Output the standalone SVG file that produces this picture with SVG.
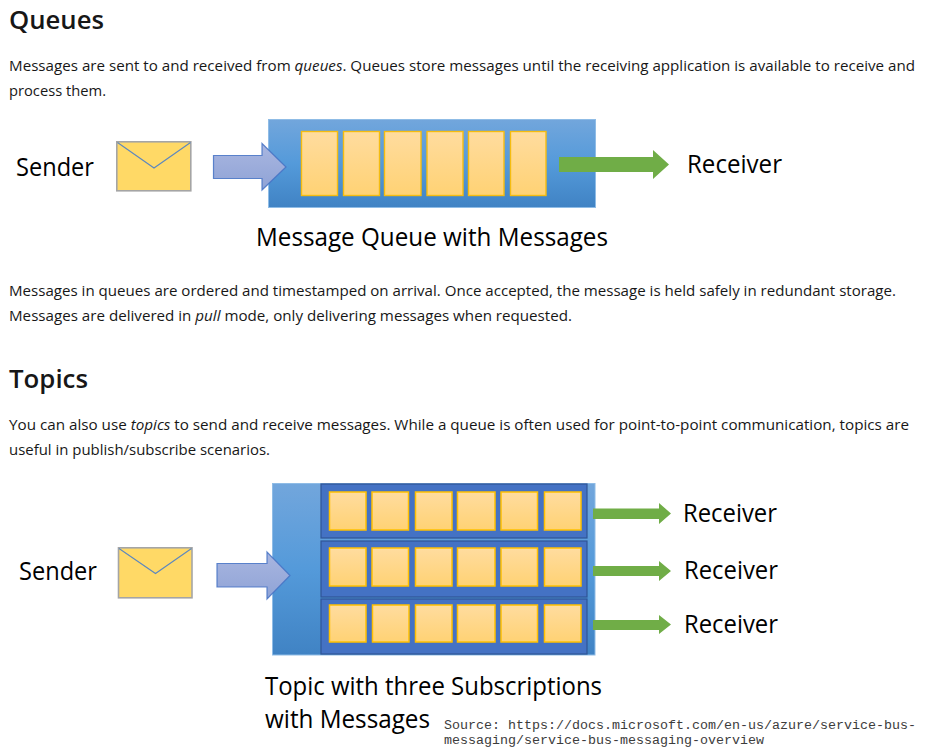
<svg xmlns="http://www.w3.org/2000/svg" width="927" height="747" viewBox="0 0 927 747">
<style>
text{font-family:"Open Sans","Noto Sans","Liberation Sans",sans-serif;fill:#171717}
.h{font-size:26px;font-weight:600}
.p{font-size:15px}
.l{font-size:25px;fill:#000}
.src{font-family:"Liberation Mono",monospace;font-size:12.5px;fill:#3c3c3c}
.panel{fill:url(#gp);stroke:#8fbce6;stroke-width:1}
.t{fill:url(#gt);stroke:#f5bc10;stroke-width:1.4}
.u{fill:url(#gt);stroke:#ffc000;stroke-width:1.5}
.sub{fill:#4472c4;stroke:#2f5597;stroke-width:1.2}
.env{fill:#ffd966;stroke:#a5a5a5;stroke-width:1.6}
.flap{fill:none;stroke:#5b87c0;stroke-width:1.1}
.in{fill:url(#ga);stroke:#4472c4;stroke-width:1.2;stroke-opacity:.85}
.out{fill:#70ad47}
</style>
<defs>
<linearGradient id="gp" x1="0" y1="0" x2="0" y2="1"><stop offset="0" stop-color="#72a6dc"/><stop offset=".5" stop-color="#549ada"/><stop offset="1" stop-color="#4083c4"/></linearGradient>
<linearGradient id="gt" x1="0" y1="0" x2="0" y2="1"><stop offset="0" stop-color="#ffdc9f"/><stop offset="1" stop-color="#ffd274"/></linearGradient>
<linearGradient id="ga" x1="0" y1="0" x2="0" y2="1"><stop offset="0" stop-color="#a9b6e0"/><stop offset="1" stop-color="#8fa3d6"/></linearGradient>
</defs>
<rect width="927" height="747" fill="#fff"/>

<g id="page-text">
<text class="h" x="9" y="29" textLength="95" lengthAdjust="spacingAndGlyphs">Queues</text>
<text class="p" x="9" y="71" textLength="906" lengthAdjust="spacingAndGlyphs">Messages are sent to and received from <tspan font-style="italic">queues</tspan>. Queues store messages until the receiving application is available to receive and</text>
<text class="p" x="9" y="96" textLength="97" lengthAdjust="spacingAndGlyphs">process them.</text>
<text class="p" x="9" y="296" textLength="887" lengthAdjust="spacingAndGlyphs">Messages in queues are ordered and timestamped on arrival. Once accepted, the message is held safely in redundant storage.</text>
<text class="p" x="9" y="321" textLength="563" lengthAdjust="spacingAndGlyphs">Messages are delivered in <tspan font-style="italic">pull</tspan> mode, only delivering messages when requested.</text>
<text class="h" x="9" y="388" textLength="79" lengthAdjust="spacingAndGlyphs">Topics</text>
<text class="p" x="9" y="430" textLength="900" lengthAdjust="spacingAndGlyphs">You can also use <tspan font-style="italic">topics</tspan> to send and receive messages. While a queue is often used for point-to-point communication, topics are</text>
<text class="p" x="9" y="455" textLength="261" lengthAdjust="spacingAndGlyphs">useful in publish/subscribe scenarios.</text>
<text class="src" x="444" y="729" textLength="472" lengthAdjust="spacingAndGlyphs">Source: https://docs.microsoft.com/en-us/azure/service-bus-</text>
<text class="src" x="444" y="743.500" textLength="320" lengthAdjust="spacingAndGlyphs">messaging/service-bus-messaging-overview</text>
</g>

<g id="queue-sender">
<text class="l" x="16" y="176" textLength="78" lengthAdjust="spacingAndGlyphs">Sender</text>
<rect class="env" x="116.8" y="141.8" width="74" height="49"/>
<path class="flap" d="M117.5 142.5L154 168L190.5 142.5"/>
</g>
<g id="queue">
<rect class="panel" x="268.5" y="119.5" width="327" height="88"/>
<rect class="t" x="301.5" y="131.5" width="36" height="64"/>
<rect class="t" x="343.5" y="131.5" width="36" height="64"/>
<rect class="t" x="384.5" y="131.5" width="36.500" height="64"/>
<rect class="t" x="427" y="131.5" width="36" height="64"/>
<rect class="t" x="468.500" y="131.5" width="35.500" height="64"/>
<rect class="t" x="510.500" y="131.5" width="35.500" height="64"/>
<text class="l" x="256" y="246" textLength="352" lengthAdjust="spacingAndGlyphs">Message Queue with Messages</text>
</g>
<g id="queue-receiver">
<text class="l" x="687" y="173" textLength="95" lengthAdjust="spacingAndGlyphs">Receiver</text>
</g>

<g id="topic-sender">
<text class="l" x="19" y="580" textLength="78" lengthAdjust="spacingAndGlyphs">Sender</text>
<rect class="env" x="118.500" y="547.8" width="73.500" height="50"/>
<path class="flap" d="M119 548.500L155.500 573.500L191.500 548.500"/>
</g>
<g id="topic">
<rect class="panel" x="272.5" y="483.5" width="322.500" height="171.500"/>
<text class="l" x="265" y="695" textLength="337" lengthAdjust="spacingAndGlyphs">Topic with three Subscriptions</text>
<text class="l" x="265" y="728" textLength="165" lengthAdjust="spacingAndGlyphs">with Messages</text>
</g>
<g id="subscription-1">
<rect class="sub" x="321" y="484" width="266" height="54"/>
<rect class="u" x="329.5" y="492" width="36.500" height="38"/>
<rect class="u" x="372" y="492" width="36.500" height="38"/>
<rect class="u" x="415.500" y="492" width="36.500" height="38"/>
<rect class="u" x="457.500" y="492" width="37.500" height="38"/>
<rect class="u" x="501" y="492" width="36.500" height="38"/>
<rect class="u" x="544.500" y="492" width="36.500" height="38"/>
</g>
<g id="subscription-2">
<rect class="sub" x="321" y="541" width="266" height="56"/>
<rect class="u" x="329.5" y="548" width="36.500" height="38"/>
<rect class="u" x="372" y="548" width="36.500" height="38"/>
<rect class="u" x="415.500" y="548" width="36.500" height="38"/>
<rect class="u" x="457.500" y="548" width="37.500" height="38"/>
<rect class="u" x="501" y="548" width="36.500" height="38"/>
<rect class="u" x="544.500" y="548" width="36.500" height="38"/>
</g>
<g id="subscription-3">
<rect class="sub" x="321" y="599" width="266" height="55"/>
<rect class="u" x="329.5" y="605" width="36.500" height="37"/>
<rect class="u" x="372.500" y="605" width="36.500" height="37"/>
<rect class="u" x="415.500" y="605" width="36.500" height="37"/>
<rect class="u" x="457.500" y="605" width="37.500" height="37"/>
<rect class="u" x="501" y="605" width="36.500" height="37"/>
<rect class="u" x="544.500" y="605" width="36.500" height="37"/>
</g>
<g id="topic-receiver-1"><text class="l" x="683" y="522" textLength="94" lengthAdjust="spacingAndGlyphs">Receiver</text></g>
<g id="topic-receiver-2"><text class="l" x="684" y="579" textLength="94" lengthAdjust="spacingAndGlyphs">Receiver</text></g>
<g id="topic-receiver-3"><text class="l" x="684" y="633" textLength="94" lengthAdjust="spacingAndGlyphs">Receiver</text></g>

<g id="connectors">
<polygon class="in" points="213.500,155.500 262,155.500 262,143.500 286,167 262,190 262,178.500 213.500,178.500"/>
<polygon class="out" points="559,157 653,157 653,150 669,164.500 653,179 653,172 559,172"/>
<polygon class="in" points="217,563.500 267,563.500 267,552 290,575.500 267,599 267,587 217,587"/>
<polygon class="out" points="593,508.500 659,508.500 659,503 671,513.500 659,524 659,519 593,519"/>
<polygon class="out" points="593,566 659,566 659,561 671,571 659,581 659,576 593,576"/>
<polygon class="out" points="593,620 659,620 659,615 671,624.500 659,634 659,630 593,630"/>
</g>
</svg>
